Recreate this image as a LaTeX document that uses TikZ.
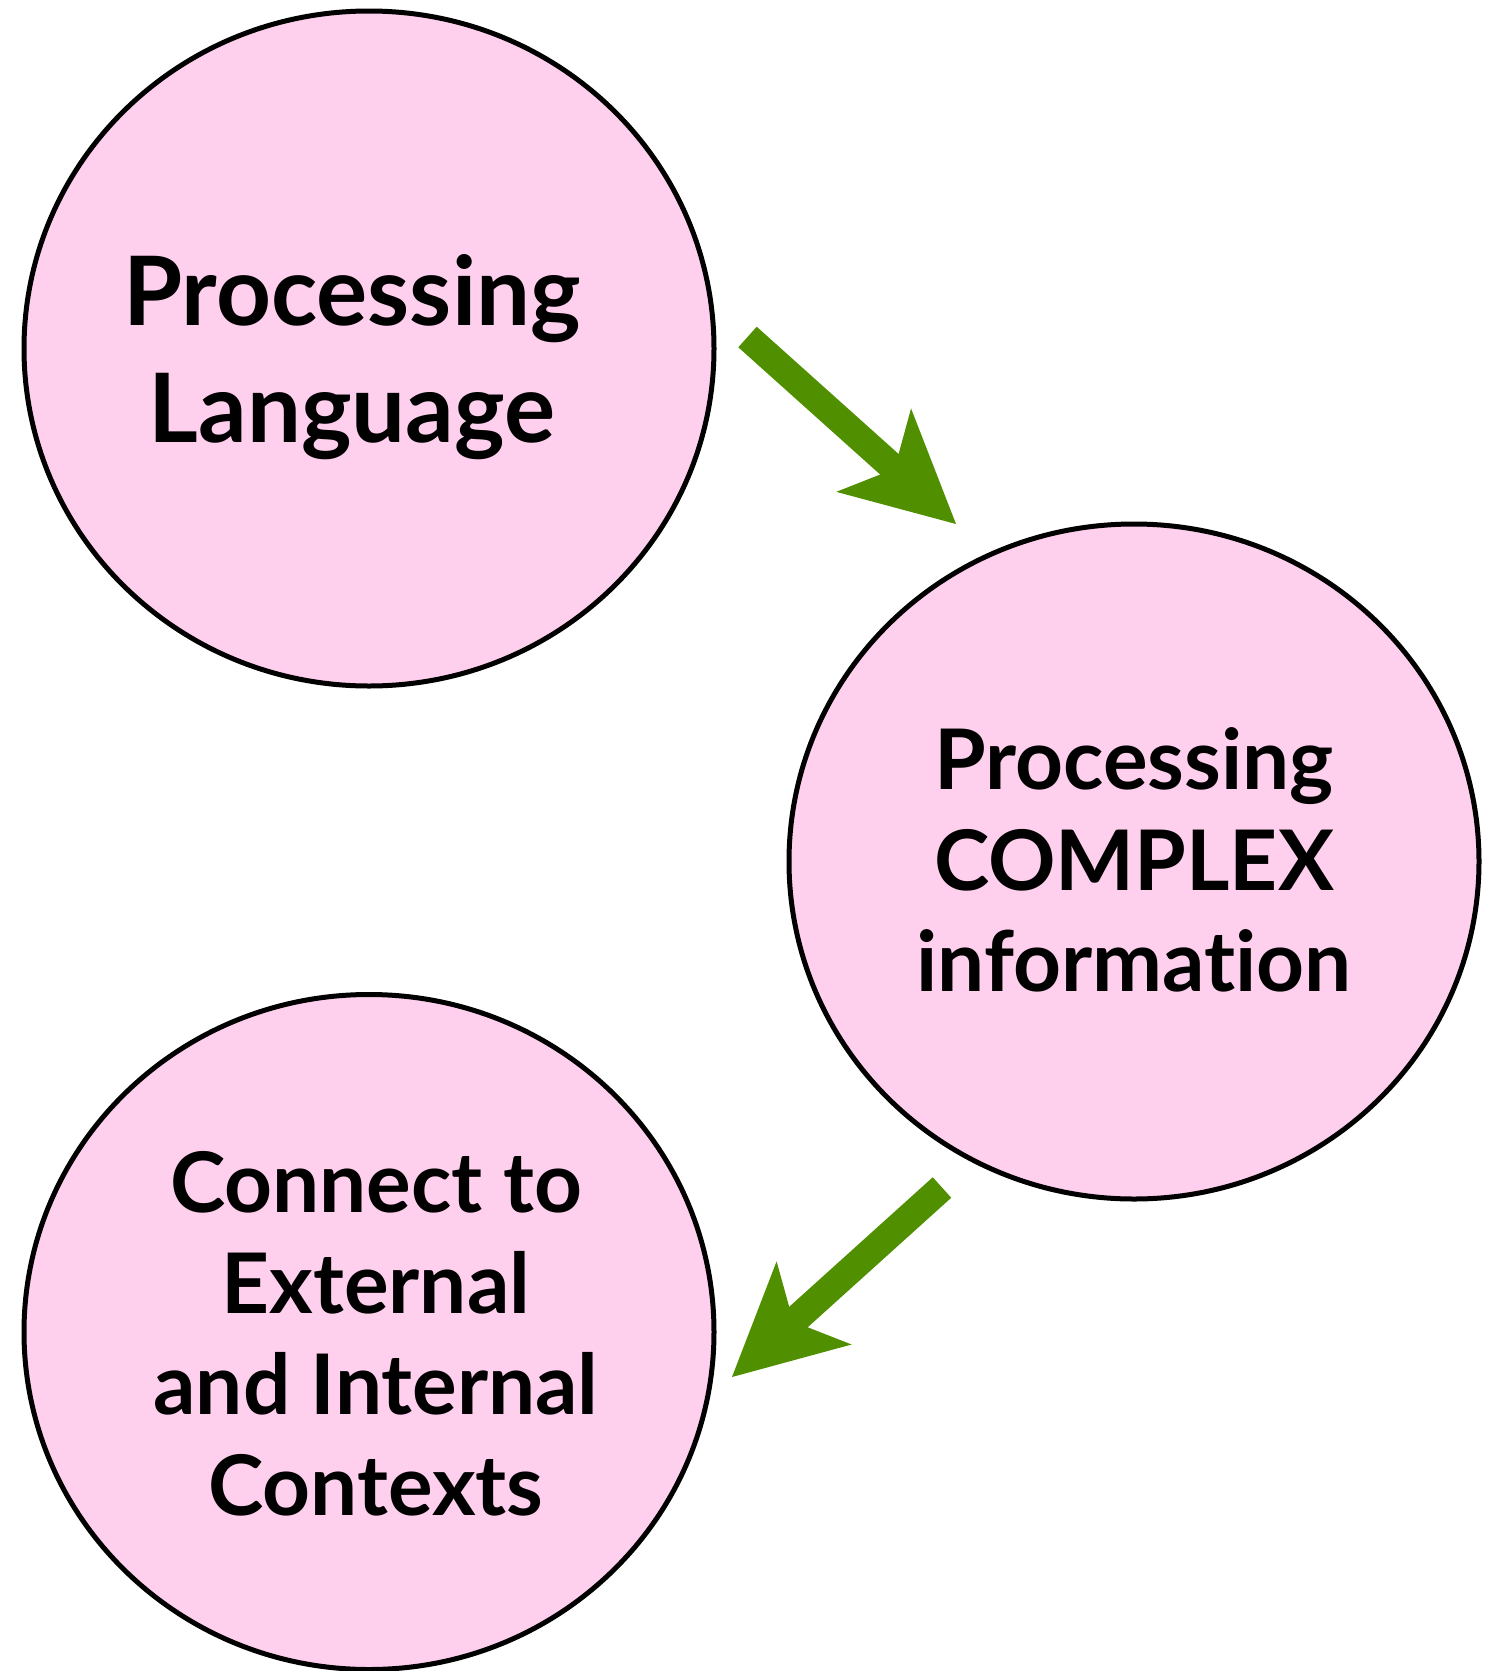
\documentclass[tikz,border=0pt]{standalone}
\usepackage{fontspec}
\setmainfont{Lato}[Ligatures=NoCommon]
\usetikzlibrary{shapes.geometric,arrows.meta}

\definecolor{bubblepink}{HTML}{FFD0EE}
\definecolor{arrowgreen}{HTML}{4F8F00}

\begin{document}
\begin{tikzpicture}[x=0.5pt,y=-0.5pt,
  bubble/.style={ellipse, draw=black, fill=bubblepink, line width=2.5pt,
    minimum width=345pt, minimum height=337.5pt, inner sep=0pt},
  bigtext/.style={align=center, font=\bfseries\fontsize{47.9pt}{58.5pt}\selectfont, inner sep=0pt},
  midtext/.style={align=center, font=\bfseries\fontsize{41.8pt}{50.5pt}\selectfont, inner sep=0pt},
  flow/.style={draw=arrowgreen, line width=13.8pt,
    -{Stealth[length=55.3pt, width=56pt, inset=14pt, line width=0pt 0 0]}}]

  % canvas
  \useasboundingbox (0,0) rectangle (1485,1671);

  % the three stages
  \node[bubble] (lang) at (369,348.5) {};
  \node[bubble] (info) at (1134,861.5) {};
  \node[bubble] (ctx)  at (369,1332) {};

  \node[bigtext] (langtext) at (352,357) {Processing\\Language};
  \node[midtext] (infotext) at (1134,859.5) {Processing\\COMPLEX\\information};
  \node[midtext] (ctxtext)  at (376,1334) {Connect to\\External\\and Internal\\Contexts};

  % arrow ends in the gaps between the stages
  \coordinate (langout) at (747.5,337);
  \coordinate (infoin)  at (956,524);
  \coordinate (infoout) at (942,1187.5);
  \coordinate (ctxin)   at (732,1377);

  \draw[flow] (langout) -- (infoin);
  \draw[flow] (infoout) -- (ctxin);
\end{tikzpicture}
\end{document}
